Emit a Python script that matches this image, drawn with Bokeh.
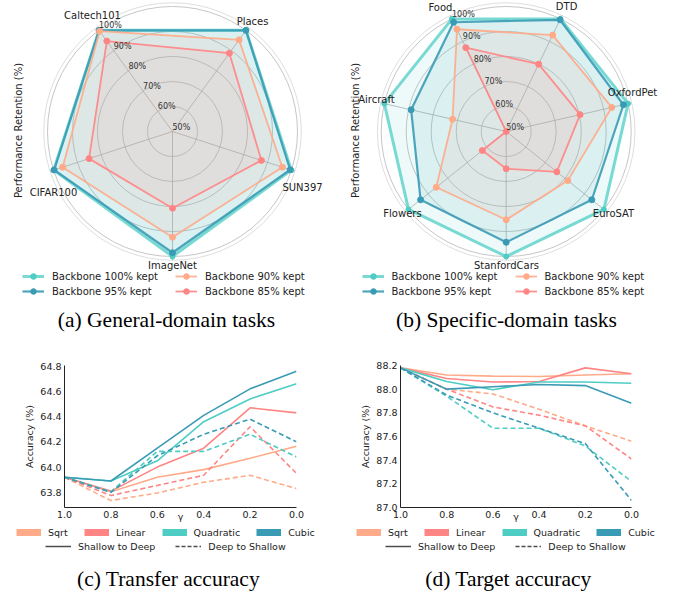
import math
from bokeh.plotting import figure
from bokeh.models import (Range1d, Legend, LegendItem, Label, FixedTicker,
                          PrintfTickFormatter, ColumnDataSource)
from bokeh.layouts import column, row
from bokeh.embed import file_html
from bokeh.resources import INLINE
from bokeh.core.properties import value

FONT = "DejaVu Sans"
SERIF = "Liberation Serif"

# ---------------- data: radar charts ----------------
general_tasks = ["Caltech101", "Places", "SUN397", "ImageNet", "CIFAR100"]
general_100 = [100.0, 100.0, 100.0, 100.0, 100.0]
general_95 = [100.0, 100.0, 99.5, 98.5, 99.8]
general_90 = [99.6, 95.3, 96.2, 92.3, 96.2]
general_85 = [94.7, 88.7, 87.4, 80.7, 85.1]

specific_tasks = ["Food", "DTD", "OxfordPet", "EuroSAT", "StanfordCars", "Flowers", "Aircraft"]
specific_100 = [100.0, 100.0, 100.0, 100.0, 100.0, 100.0, 100.0]
specific_95 = [98.5, 99.6, 98.1, 93.8, 94.3, 93.8, 89.0]
specific_90 = [95.4, 92.8, 93.3, 81.5, 85.3, 85.8, 72.0]
specific_85 = [87.2, 79.9, 80.3, 75.9, 64.9, 62.2, 50.0]

series_labels = ["Backbone 100% kept", "Backbone 95% kept", "Backbone 90% kept", "Backbone 85% kept"]
ring_values = [50, 60, 70, 80, 90, 100]

# ---------------- data: line charts ----------------
gamma = [1.0, 0.8, 0.6, 0.4, 0.2, 0.0]
schedules = ["Sqrt", "Linear", "Quadratic", "Cubic"]
directions = ["Shallow to Deep", "Deep to Shallow"]

transfer_sqrt_s2d = [63.92, 63.805, 63.92, 63.98, 64.07, 64.165]
transfer_linear_s2d = [63.92, 63.81, 64.0, 64.15, 64.47, 64.43]
transfer_quadratic_s2d = [63.92, 63.89, 64.05, 64.36, 64.54, 64.66]
transfer_cubic_s2d = [63.92, 63.89, 64.15, 64.41, 64.62, 64.76]
transfer_sqrt_d2s = [63.92, 63.735, 63.795, 63.88, 63.935, 63.83]
transfer_linear_d2s = [63.92, 63.775, 63.855, 63.935, 64.32, 63.95]
transfer_quadratic_d2s = [63.92, 63.805, 64.125, 64.125, 64.26, 64.08]
transfer_cubic_d2s = [63.92, 63.80, 64.09, 64.26, 64.38, 64.20]
transfer_yticks = [63.8, 64.0, 64.2, 64.4, 64.6, 64.8]

target_sqrt_s2d = [88.18, 88.12, 88.11, 88.107, 88.12, 88.13]
target_linear_s2d = [88.18, 88.09, 88.06, 88.065, 88.18, 88.13]
target_quadratic_s2d = [88.18, 88.065, 87.995, 88.06, 88.06, 88.05]
target_cubic_s2d = [88.18, 88.0, 88.02, 88.04, 88.03, 87.88]
target_sqrt_d2s = [88.18, 88.0, 87.96, 87.83, 87.69, 87.56]
target_linear_d2s = [88.18, 88.0, 87.85, 87.78, 87.69, 87.41]
target_quadratic_d2s = [88.18, 87.94, 87.67, 87.67, 87.52, 87.22]
target_cubic_d2s = [88.18, 87.95, 87.80, 87.67, 87.54, 87.06]
target_yticks = [87.0, 87.2, 87.4, 87.6, 87.8, 88.0, 88.2]

# ---------------- styles ----------------
RADAR_COLORS = ["#4ECDC4", "#3A9BB5", "#FFAA88", "#FF8585"]
RADAR_LW = [3.0, 2.2, 1.8, 1.8]
RADAR_LA = [0.75, 0.9, 0.9, 0.9]
RADAR_MS = [5, 6, 6, 6]
SCHED_COLORS = ["#FFAA88", "#FF8585", "#4ECDC4", "#3A9BB5"]
TOP_H = 340
CHART_H = 184
LEG_H = 68
S = 2.5          # px per percent
R0 = 50.0        # value at centre
R_MAX = 101.5
NAN = float("nan")


def polar(r, deg):
    return r * math.cos(math.radians(deg)), r * math.sin(math.radians(deg))


def radar_fig(tasks, series, width, cx, cy, label_r, nudges, ylabel_x,
              leg_x1, leg_x2, caption, cap_x):
    p = figure(width=width, height=TOP_H, x_range=Range1d(-cx, width - cx),
               y_range=Range1d(-(TOP_H - cy), cy), x_axis_type=None, y_axis_type=None,
               toolbar_location=None, output_backend="svg", min_border=0, title=None)
    p.outline_line_color = None
    n = len(tasks)
    step = 360.0 / n
    angles = [90 + step / 2 - i * step for i in range(n)]

    def rad(v):
        return (v - R0) * S

    rr = [rad(v) for v in ring_values[1:]]
    p.circle(x=[0] * len(rr), y=[0] * len(rr), radius=rr, fill_color=None,
             line_color="#b8b8b8", line_width=0.8)
    outer = rad(R_MAX)
    p.circle(x=[0], y=[0], radius=[outer], fill_color=None, line_color="#d6d6d6", line_width=0.8)
    ends = [polar(outer, a) for a in angles]
    p.segment(x0=[0] * n, y0=[0] * n, x1=[e[0] for e in ends], y1=[e[1] for e in ends],
              line_color="#b0b0b0", line_width=0.8)

    rends = []
    for vals, col, lw, la, ms in zip(series, RADAR_COLORS, RADAR_LW, RADAR_LA, RADAR_MS):
        pts = [polar(rad(v), a) for v, a in zip(vals, angles)]
        xs = [q[0] for q in pts]
        ys = [q[1] for q in pts]
        p.patch(xs, ys, fill_color=col, fill_alpha=0.1, line_color=None)
        lr = p.line(xs + xs[:1], ys + ys[:1], line_color=col, line_width=lw, line_alpha=la)
        sr = p.scatter(xs, ys, size=ms, fill_color=col, line_color=col)
        rends.append([lr, sr])

    # ring labels along first spoke
    rl = [polar(rad(v), angles[0]) for v in ring_values]
    p.text(x=[q[0] for q in rl], y=[q[1] for q in rl], text=[f"{v}%" for v in ring_values],
           text_align="left", text_baseline="bottom", text_font=value(FONT),
           text_font_size="8px", text_color="#333333")

    # category labels
    lx, ly = [], []
    for a, (dx, dy) in zip(angles, nudges):
        x, y = polar(label_r, a)
        lx.append(x + dx)
        ly.append(y + dy)
    p.text(x=lx, y=ly, text=tasks, text_align="center", text_baseline="middle",
           text_font=value(FONT), text_font_size="10px", text_color="#222222")

    p.add_layout(Label(x=ylabel_x, y=TOP_H - 130, x_units="screen", y_units="screen",
                       text="Performance Retention (%)", angle=math.pi / 2,
                       text_align="center", text_baseline="middle", text_font=FONT,
                       text_font_size="10px", text_color="#222222"))

    items = [LegendItem(label=l, renderers=r) for l, r in zip(series_labels, rends)]
    for lx0, its in ((leg_x1, items[:2]), (leg_x2, items[2:])):
        lg = Legend(items=its, location=(lx0, 42), orientation="vertical", padding=0,
                    margin=0, spacing=1, glyph_width=22, glyph_height=14, label_height=14,
                    label_standoff=8, label_text_font=FONT, label_text_font_size="10px",
                    label_text_color="#222222", border_line_color=None,
                    background_fill_alpha=0)
        p.add_layout(lg)

    p.add_layout(Label(x=cap_x, y=TOP_H - 319, x_units="screen", y_units="screen", text=caption,
                       text_align="center", text_baseline="middle", text_font=SERIF,
                       text_font_size="21.5px", text_color="black"))
    return p


def line_fig(width, bl, br, yrange, yticks, s2d, d2s):
    p = figure(width=width, height=CHART_H, x_range=Range1d(1.0, 0.0), y_range=Range1d(*yrange),
               toolbar_location=None, output_backend="svg", title=None,
               min_border_left=bl, min_border_right=br, min_border_top=25, min_border_bottom=16)
    p.grid.visible = False
    p.outline_line_color = None
    p.xaxis.ticker = FixedTicker(ticks=gamma)
    p.yaxis.ticker = FixedTicker(ticks=yticks)
    p.xaxis.formatter = PrintfTickFormatter(format="%.1f")
    p.yaxis.formatter = PrintfTickFormatter(format="%.1f")
    for ax in p.axis:
        ax.axis_line_color = "#222222"
        ax.axis_line_width = 1
        ax.major_tick_out = 0
        ax.major_tick_in = 0
        ax.minor_tick_out = 0
        ax.minor_tick_in = 0
        ax.major_label_text_font = FONT
        ax.major_label_text_font_size = "9.5px"
        ax.major_label_text_color = "#222222"
        ax.major_label_standoff = 3
        ax.axis_label_text_font = FONT
        ax.axis_label_text_font_size = "9.5px"
        ax.axis_label_text_font_style = "normal"
        ax.axis_label_text_color = "#222222"
    p.xaxis.axis_label = "γ"
    p.xaxis.axis_label_standoff = -10
    p.yaxis.axis_label = "Accuracy (%)"
    p.yaxis.axis_label_standoff = 2

    for a, b, col in zip(s2d, d2s, SCHED_COLORS):
        p.line(gamma, a, line_color=col, line_width=1.6)
        p.line(gamma, b, line_color=col, line_width=1.6, line_dash="5 3")
    return p


def legend_fig(width, leg1_x, leg2_x, caption, cap_x):
    p = figure(width=width, height=LEG_H, x_range=Range1d(0, 1), y_range=Range1d(0, 1),
               x_axis_type=None, y_axis_type=None, toolbar_location=None,
               output_backend="svg", min_border=0, title=None)
    p.outline_line_color = None

    def proxy(**kw):
        # legend-only proxy renderer (one NaN point, draws nothing in the plot)
        return p.line(x="x", y="y", source=ColumnDataSource(dict(x=[NAN], y=[NAN])), **kw)

    patch_items = [LegendItem(label=name, renderers=[proxy(line_color=col, line_width=7)])
                   for name, col in zip(schedules, SCHED_COLORS)]
    style_items = [
        LegendItem(label=directions[0], renderers=[proxy(line_color="#4d4d4d", line_width=1.5)]),
        LegendItem(label=directions[1], renderers=[proxy(line_color="#4d4d4d", line_width=1.5,
                                                         line_dash="4 2")]),
    ]
    common = dict(orientation="horizontal", padding=0, margin=0, glyph_height=14,
                  label_height=14, label_standoff=7, label_text_font=FONT,
                  label_text_font_size="9.5px", label_text_color="#222222",
                  border_line_color=None, background_fill_alpha=0)
    p.add_layout(Legend(items=patch_items, location=(leg1_x, 53), spacing=16, glyph_width=25,
                        **common))
    p.add_layout(Legend(items=style_items, location=(leg2_x, 39), spacing=20, glyph_width=26,
                        **common))
    p.add_layout(Label(x=cap_x, y=14, x_units="screen", y_units="screen", text=caption,
                       text_align="center", text_baseline="middle", text_font=SERIF,
                       text_font_size="21.5px", text_color="black"))
    return p


fa = radar_fig(general_tasks, [general_100, general_95, general_90, general_85], 338,
               172, 131, 137,
               [(0.5, 5.2), (-0.5, -0.8), (-0.3, -13.7), (0, 3), (11.3, -18.7)],
               18, 22, 175, "(a) General-domain tasks", 166)
fb = radar_fig(specific_tasks, [specific_100, specific_95, specific_90, specific_85], 339,
               167.7, 131, 135,
               [(-7.2, 2.3), (1.8, 3.3), (-5.3, 9), (1.8, 2.2), (0.3, 1), (1.8, 2.2), (1.9, 2)],
               17, 23.5, 176.5, "(b) Specific-domain tasks", 168)

fc = line_fig(338, 64, 42, (63.68, 64.805), transfer_yticks,
              [transfer_sqrt_s2d, transfer_linear_s2d, transfer_quadratic_s2d, transfer_cubic_s2d],
              [transfer_sqrt_d2s, transfer_linear_d2s, transfer_quadratic_d2s, transfer_cubic_d2s])
fd = line_fig(339, 62, 46, (87.0, 88.2), target_yticks,
              [target_sqrt_s2d, target_linear_s2d, target_quadratic_s2d, target_cubic_s2d],
              [target_sqrt_d2s, target_linear_d2s, target_quadratic_d2s, target_cubic_d2s])
lc = legend_fig(338, 16, 45, "(c) Transfer accuracy", 168)
ld = legend_fig(339, 18, 47, "(d) Target accuracy", 170)

layout = column(row(fa, fb), row(fc, fd), row(lc, ld))
open("out.html", "w").write(file_html(layout, INLINE))
